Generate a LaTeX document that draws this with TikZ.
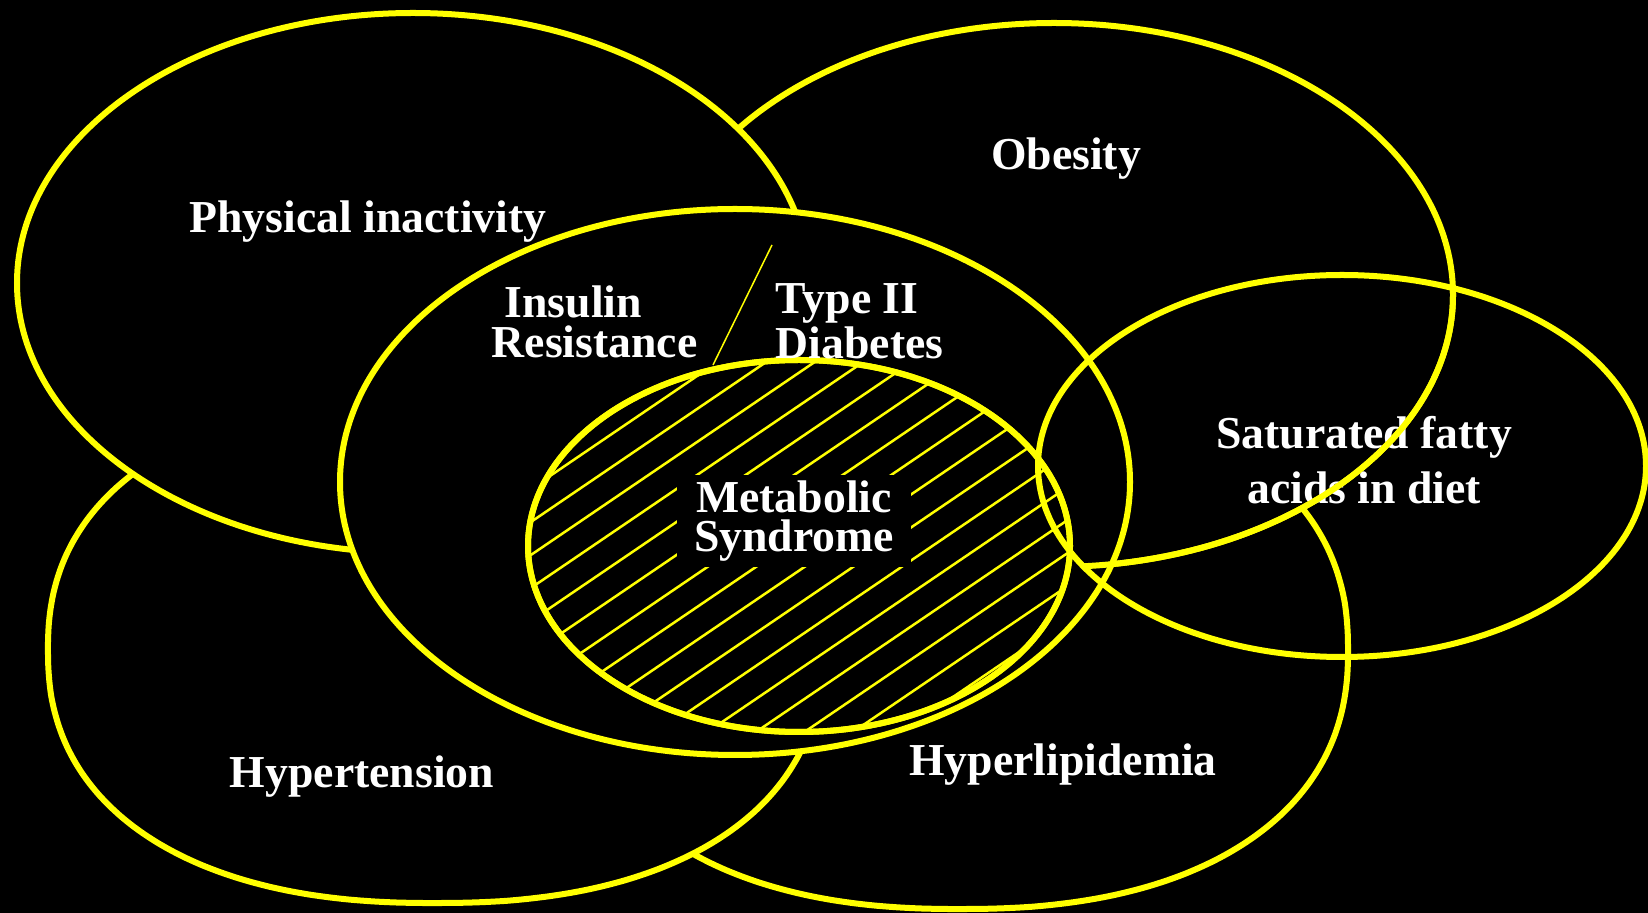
\documentclass[tikz,border=0pt]{standalone}
\usepackage{fontspec}
\setmainfont{Liberation Serif}
\definecolor{rim}{RGB}{255,255,0}
\tikzset{
  disc/.style={draw=rim, line width=0.06cm, fill=black},
  ring/.style={draw=rim, line width=0.06cm},
  hatch/.style={draw=rim, line width=0.025cm},
  tag/.style={text=white, inner sep=0pt, font=\fontsize{13}{11.2}\selectfont\bfseries},
}

\begin{document}
\begin{tikzpicture}[x=0.01cm,y=-0.01cm,
  declare function={sx(\t)=sign(cos(\t))*pow(abs(cos(\t)),0.87);
                    sy(\t)=sign(sin(\t))*pow(abs(sin(\t)),0.87);}]
\fill[black] (0,0) rectangle (1648,913);
\useasboundingbox (0,0) rectangle (1648,913);
% back row: hyperlipidemia, hypertension, obesity
\draw[disc] plot[domain=1:358, samples=120, smooth cycle] ({960+388*sx(\x)}, {650+259*sy(\x)});
\draw[disc] plot[domain=1:358, samples=120, smooth cycle] ({435+387*sx(\x)}, {650+253*sy(\x)});
\draw[disc] (1054,295) ellipse [x radius=399, y radius=272];
% front row
\draw[disc] (413,283) ellipse [x radius=396, y radius=270];
\draw[disc] (735,482) ellipse [x radius=395, y radius=273];
\draw[disc] (799,546) ellipse [x radius=271, y radius=186];
\begin{scope}
  \clip (799,546) ellipse [x radius=271, y radius=186];
  \foreach \k in {-5,...,14}
    \draw[hatch] (500,{609+33*\k}) -- (1100,{201+33*\k});
\end{scope}
\draw[ring] (799,546) ellipse [x radius=271, y radius=186];
\draw[ring] (1342,466) ellipse [x radius=304, y radius=191];
% split between insulin resistance and diabetes
\coordinate (cut top) at (772,245);
\coordinate (cut foot) at (713,365);
\draw[rim, line width=0.015cm] (cut top) -- (cut foot);

\node[tag, anchor=base] (inact) at (368,233) {Physical inactivity};
\node[tag, anchor=base] (obese) at (1066,170) {Obesity};
\node[tag, align=left, anchor=west] (insul) at (491,322) {\hspace*{0.13cm}Insulin\\Resistance};
\node[tag, align=left, anchor=west] (diab) at (775,321) {Type II\\Diabetes};
\node[tag, align=center, fill=black, inner xsep=0.17cm, inner ysep=0.06cm] (metab) at (794,521) {Metabolic\\Syndrome};
\node[tag, align=center, font=\fontsize{13}{15.7}\selectfont\bfseries] (fatty) at (1364,460) {Saturated fatty\\acids in diet};
\node[tag, anchor=base] (hyten) at (362,788) {Hypertension};
\node[tag, anchor=base] (hylip) at (1063,776) {Hyperlipidemia};
% obesity rim runs over the fatty acids text
\begin{scope}
  \clip (1342,466) ellipse [x radius=304, y radius=191];
  \draw[ring] (1054,295) ellipse [x radius=399, y radius=272];
\end{scope}
\end{tikzpicture}
\end{document}
